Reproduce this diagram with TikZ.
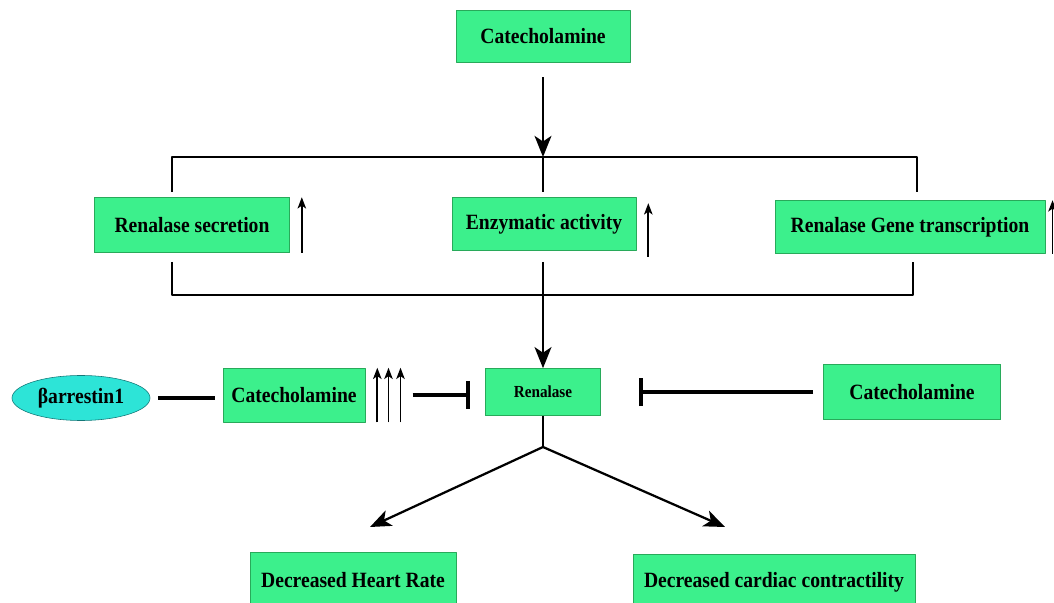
\documentclass[tikz,border=0pt]{standalone}
\usepackage{fontspec}
\newfontfamily\boxfont[FakeStretch=0.9]{Liberation Serif}
\usetikzlibrary{arrows.meta,shapes.geometric}
\definecolor{boxgreen}{RGB}{60,240,140}
\definecolor{boxedge}{RGB}{40,170,90}
\definecolor{ovalcyan}{RGB}{45,228,215}
\definecolor{ovaledge}{RGB}{20,120,120}
\begin{document}
\begin{tikzpicture}[x=0.025cm,y=-0.025cm,line join=round,
  box/.style={draw=boxedge,fill=boxgreen,inner sep=0pt,font=\boxfont\bfseries\fontsize{15.5}{18}\selectfont},
  oval/.style={ellipse,draw=ovaledge,fill=ovalcyan,inner sep=0pt,font=\boxfont\bfseries\fontsize{15.5}{18}\selectfont},
  arr/.style={line width=1.6pt,-{Stealth[length=15pt,width=12pt,inset=4pt]}},
  rise/.style={line width=1.3pt,-{Stealth[length=8pt,width=6pt,inset=2pt]}},
  bracket/.style={line width=1.6pt},
  block/.style={line width=2.8pt,-{Bar[width=20pt,line width=2.8pt]}}]
\useasboundingbox (0,0) rectangle (1054,603);
% top
\node[box,minimum width=4.35cm,minimum height=1.3cm] (cat) at (543,36) {Catecholamine};
\coordinate (tl) at (172,157);
\coordinate (tm) at (543,157);
\coordinate (tr) at (917,157);
\draw[arr] (cat.south)+(0,15) -- (tm);
\draw[bracket] ([yshift=-35*0.025cm]tl) -- (tl) -- (tr) -- ([yshift=-35*0.025cm]tr);
\draw[bracket] (tm) -- ++(0,35);
% three effects
\node[box,minimum width=4.875cm,minimum height=1.375cm] (sec) at (192,225) {Renalase secretion};
\node[box,minimum width=4.6cm,minimum height=1.325cm] (enz) at (544,224) {Enzymatic activity};
\node[box,minimum width=6.75cm,minimum height=1.325cm] (gene) at (910,227) {Renalase Gene transcription};
\draw[rise] ([xshift=0.3cm]sec.south east) -- ([xshift=0.3cm]sec.north east);
\draw[rise] ([xshift=0.3cm,yshift=-0.15cm]enz.south east) -- ([xshift=0.3cm,yshift=-0.15cm]enz.north east);
\draw[rise] ([xshift=0.18cm]gene.south east) -- ([xshift=0.18cm]gene.north east);
\coordinate (bl) at (172,295);
\coordinate (bm) at (543,295);
\coordinate (br) at (913,295);
\draw[bracket] ([yshift=33*0.025cm]bl) -- (bl) -- (br) -- ([yshift=33*0.025cm]br);
% middle row
\node[box,minimum width=2.875cm,minimum height=1.175cm,font=\boxfont\bfseries\fontsize{12}{14}\selectfont] (ren) at (543,392) {Renalase};
\draw[arr] (543,262) -- (ren.north);
\node[oval,minimum width=3.45cm,minimum height=1.125cm] (barr) at (81,398) {βarrestin1};
\node[box,minimum width=3.55cm,minimum height=1.35cm] (catl) at (294,395) {Catecholamine};
\node[box,minimum width=4.425cm,minimum height=1.375cm] (catr) at (912,392) {Catecholamine};
\draw[line width=2.8pt,shorten <=0.2cm,shorten >=0.2cm] (barr.east) -- (barr.east -| catl.west);
\foreach \dx in {0.3,0.58,0.88}
  \draw[rise] ([xshift=\dx cm]catl.south east) -- ([xshift=\dx cm]catl.north east);
\draw[block,shorten <=1.18cm,shorten >=0.38cm] (catl.east) -- (catl.east -| ren.west);
\draw[block,shorten <=0.25cm,shorten >=0.95cm] (catr.west) -- (ren.east);
% outcomes
\node[box,minimum width=5.15cm,minimum height=1.375cm] (hr) at (353,580) {Decreased Heart Rate};
\node[box,minimum width=7.05cm,minimum height=1.375cm] (cc) at (774,582) {Decreased cardiac contractility};
\coordinate (fork) at (543,447);
\draw[bracket] (ren.south) -- (fork);
\draw[arr] (fork) -- (370,527);
\draw[arr] (fork) -- (725,527);
\end{tikzpicture}
\end{document}
